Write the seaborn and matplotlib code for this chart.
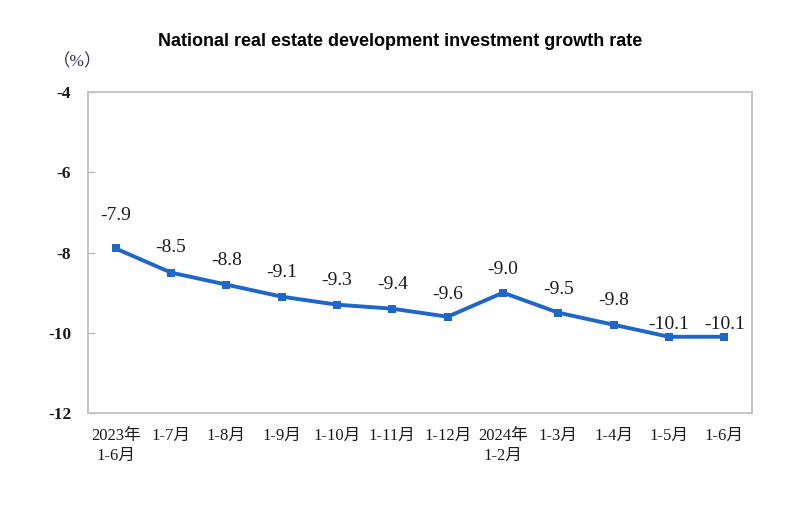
import matplotlib
matplotlib.use("Agg")
import matplotlib.pyplot as plt
import seaborn as sns
import pandas as pd
from matplotlib.ticker import FixedLocator

categories = ["2023年\n1-6月", "1-7月", "1-8月", "1-9月", "1-10月", "1-11月", "1-12月",
              "2024年\n1-2月", "1-3月", "1-4月", "1-5月", "1-6月"]
growth = [-7.9, -8.5, -8.8, -9.1, -9.3, -9.4, -9.6, -9.0, -9.5, -9.8, -10.1, -10.1]
yticks = [-12, -10, -8, -6, -4]
label_offsets_px = [33, 25, 24, 24, 24, 24, 22, 23, 23, 24, 12, 12]

sns.set_theme(style="white")
plt.rcParams['font.family'] = ['Liberation Serif', 'Noto Sans CJK SC', 'DejaVu Sans']
plt.rcParams['axes.unicode_minus'] = False

df = pd.DataFrame({"period": categories, "growth": growth, "idx": range(len(categories))})

fig = plt.figure(figsize=(8, 5.27), dpi=100)
ax = fig.add_axes([0.11, 0.2163, 0.83, 0.6091])

line_color = "#1f66c8"
sns.lineplot(data=df, x="idx", y="growth", ax=ax, color=line_color, linewidth=2.8,
             marker="s", markersize=6, markeredgewidth=0, sort=False)

ax.set_xlim(-0.5, len(categories) - 0.5)
ax.set_ylim(-12, -4)
ax.set_yticks(yticks)
ax.set_yticklabels([str(v) for v in yticks], fontsize=12.5, color="#1a1a1a",
                   fontweight="bold")

ax.set_xticks(range(len(categories)))
ax.set_xticklabels(categories, fontsize=12, color="#1a1a1a", linespacing=1.3)
ax.xaxis.set_minor_locator(FixedLocator([i + 0.5 for i in range(len(categories) - 1)]))
ax.tick_params(axis="x", which="major", length=0, pad=11)
ax.tick_params(axis="x", which="minor", direction="in", length=6, width=1, color="#bbbbbb")
ax.tick_params(axis="y", which="major", direction="in", length=5, width=1, color="#bbbbbb",
               pad=12, left=True)
ax.set_xlabel("")
ax.set_ylabel("")

for s in ax.spines.values():
    s.set_color("#c0c0c0")
    s.set_linewidth(1.3)

for i, (v, off) in enumerate(zip(growth, label_offsets_px)):
    ax.annotate(f"{v:.1f}", (i, v), xytext=(0, off * 0.72), textcoords="offset points",
                ha="center", va="center", fontsize=14, color="#1a1a1a")

fig.text(0.5, 1 - 41 / 527, "National real estate development investment growth rate",
         ha="center", va="center", fontsize=13, fontweight="bold",
         family=["Liberation Sans", "DejaVu Sans"], color="black")
fig.text(78 / 800, 1 - 62 / 527, "（%）", ha="center", va="center", fontsize=12.5,
         color="#333355")

fig.savefig("out.png", dpi=100)
